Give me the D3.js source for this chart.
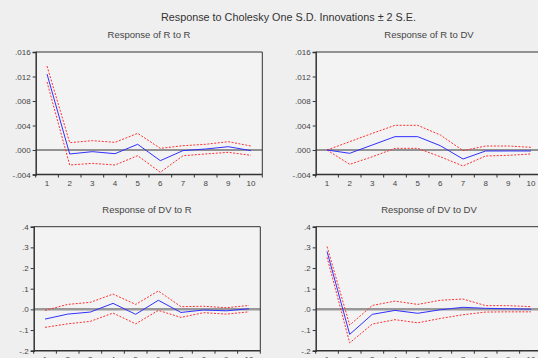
<!DOCTYPE html>
<html>
<head>
<meta charset="utf-8">
<script src="https://cdn.jsdelivr.net/npm/d3@7"></script>
<style>
  html, body { margin: 0; padding: 0; background: #efefef; }
  svg { display: block; font-family: "Liberation Sans", Arial, sans-serif; }
</style>
</head>
<body>
<svg id="chart" width="538" height="358"></svg>
<script>
// Impulse-response horizons
const periods = [1, 2, 3, 4, 5, 6, 7, 8, 9, 10];

// Response of R to R
const rToR      = [0.0124, -0.00065, -0.00027, -0.0006, 0.00093, -0.00174, -0.0001, 0.00016, 0.00054, -0.0001];
const rToRUpper = [0.0137, 0.0012, 0.00152, 0.00125, 0.00272, 0.00027, 0.0007, 0.00093, 0.00136, 0.00065];
const rToRLower = [0.0111, -0.00245, -0.00218, -0.00245, -0.00093, -0.00364, -0.00093, -0.00065, -0.00038, -0.00087];

// Response of R to DV
const rToDv      = [0, -0.00054, 0.00082, 0.00218, 0.00218, 0.0007, -0.00147, -0.00016, -0.00016, -0.00016];
const rToDvUpper = [0, 0.00136, 0.00272, 0.00403, 0.00403, 0.00245, -0.0001, 0.00065, 0.00065, 0.00044];
const rToDvLower = [0, -0.00234, -0.0011, 0.00027, 0.00027, -0.0011, -0.00261, -0.00098, -0.00087, -0.00065];

// Response of DV to R
const dvToR      = [-0.047, -0.023, -0.013, 0.029, -0.024, 0.044, -0.015, -0.003, -0.007, 0.003];
const dvToRUpper = [-0.005, 0.024, 0.034, 0.074, 0.024, 0.089, 0.013, 0.015, 0.008, 0.019];
const dvToRLower = [-0.087, -0.07, -0.058, -0.018, -0.07, -0.005, -0.039, -0.016, -0.023, -0.012];

// Response of DV to DV
const dvToDv      = [0.28, -0.121, -0.024, -0.005, -0.019, -0.002, 0.01, 0.005, 0.003, 0.001];
const dvToDvUpper = [0.304, -0.076, 0.019, 0.04, 0.024, 0.044, 0.05, 0.018, 0.018, 0.013];
const dvToDvLower = [0.252, -0.162, -0.071, -0.05, -0.065, -0.044, -0.026, -0.013, -0.012, -0.012];

// Axis ticks
const rTicks = [-0.004, 0, 0.004, 0.008, 0.012, 0.016];
const rTickLabels = ["-.004", ".000", ".004", ".008", ".012", ".016"];
const dvTicks = [-0.2, -0.1, 0, 0.1, 0.2, 0.3, 0.4];
const dvTickLabels = ["-.2", "-.1", ".0", ".1", ".2", ".3", ".4"];

const mainTitle = "Response to Cholesky One S.D. Innovations \u00b1 2 S.E.";

const panels = [
  { title: "Response of R to R", x: 35.7, y: 52, h: 122.5, mid: rToR, up: rToRUpper, lo: rToRLower,
    ticks: rTicks, labels: rTickLabels, zeroStyle: "thin" },
  { title: "Response of R to DV", x: 315.7, y: 52, h: 122.5, mid: rToDv, up: rToDvUpper, lo: rToDvLower,
    ticks: rTicks, labels: rTickLabels, zeroStyle: "thin" },
  { title: "Response of DV to R", x: 33.7, y: 226.7, h: 124, mid: dvToR, up: dvToRUpper, lo: dvToRLower,
    ticks: dvTicks, labels: dvTickLabels, zeroStyle: "thick" },
  { title: "Response of DV to DV", x: 315.7, y: 226.7, h: 124, mid: dvToDv, up: dvToDvUpper, lo: dvToDvLower,
    ticks: dvTicks, labels: dvTickLabels, zeroStyle: "thick" }
];
const plotW = 226.6;

const svg = d3.select("#chart");

svg.append("rect").attr("width", 538).attr("height", 358).attr("fill", "#efefef");

svg.append("text")
  .attr("x", 288.5).attr("y", 21)
  .attr("text-anchor", "middle")
  .attr("font-size", 10.8)
  .attr("fill", "#333")
  .text(mainTitle);

panels.forEach(p => {
  const g = svg.append("g").attr("transform", `translate(${p.x},${p.y})`);
  const x = d3.scaleBand().domain(periods).range([0, plotW]);
  const y = d3.scaleLinear()
    .domain([p.ticks[0], p.ticks[p.ticks.length - 1]])
    .range([p.h, 0]);

  // plot area
  g.append("rect").attr("width", plotW).attr("height", p.h).attr("fill", "#f3f3f3");

  g.append("text")
    .attr("x", plotW / 2).attr("y", -14)
    .attr("text-anchor", "middle")
    .attr("font-size", 9.5)
    .attr("fill", "#444")
    .text(p.title);

  // zero line
  g.append("line")
    .attr("x1", 0).attr("x2", plotW)
    .attr("y1", y(0)).attr("y2", y(0))
    .attr("stroke", p.zeroStyle === "thin" ? "#333" : "#999")
    .attr("stroke-width", p.zeroStyle === "thin" ? 1 : 2.5);

  const cx = d => x(d) + x.bandwidth() / 2;
  const line = vals => d3.line().x((d, i) => cx(periods[i])).y(d => y(d))(vals);

  [p.up, p.lo].forEach(band => {
    g.append("path")
      .attr("d", line(band))
      .attr("fill", "none")
      .attr("stroke", "#ff3030")
      .attr("stroke-width", 1)
      .attr("stroke-dasharray", "2,1.5");
  });

  g.append("path")
    .attr("d", line(p.mid))
    .attr("fill", "none")
    .attr("stroke", "#3030ff")
    .attr("stroke-width", 1);

  // frame: top and right
  g.append("path")
    .attr("d", `M0,0H${plotW}V${p.h}`)
    .attr("fill", "none")
    .attr("stroke", "#333")
    .attr("stroke-width", 1);

  // left axis
  const yAxis = d3.axisLeft(y)
    .tickValues(p.ticks)
    .tickFormat((d, i) => p.labels[i])
    .tickSize(3)
    .tickPadding(2);
  const ya = g.append("g").call(yAxis);
  ya.select(".domain").attr("stroke", "#333").attr("stroke-width", 1.5);
  ya.selectAll(".tick line").attr("stroke", "#333");
  ya.selectAll(".tick text").attr("font-size", 8).attr("fill", "#444")
    .attr("font-family", "Liberation Sans, Arial, sans-serif");

  // bottom axis: ticks at band boundaries, labels at band centres
  const xa = g.append("g").attr("transform", `translate(0,${p.h})`);
  xa.append("line").attr("x1", 0).attr("x2", plotW)
    .attr("stroke", "#333").attr("stroke-width", 1.5);
  const bounds = periods.map(d => x(d)).concat([plotW]);
  xa.selectAll(".bt").data(bounds).join("line")
    .attr("x1", d => d).attr("x2", d => d)
    .attr("y1", 0).attr("y2", 3)
    .attr("stroke", "#333");
  xa.selectAll(".bl").data(periods).join("text")
    .attr("x", d => cx(d)).attr("y", 11)
    .attr("text-anchor", "middle")
    .attr("font-size", 8)
    .attr("fill", "#444")
    .text(d => d);
});
</script>
</body>
</html>
